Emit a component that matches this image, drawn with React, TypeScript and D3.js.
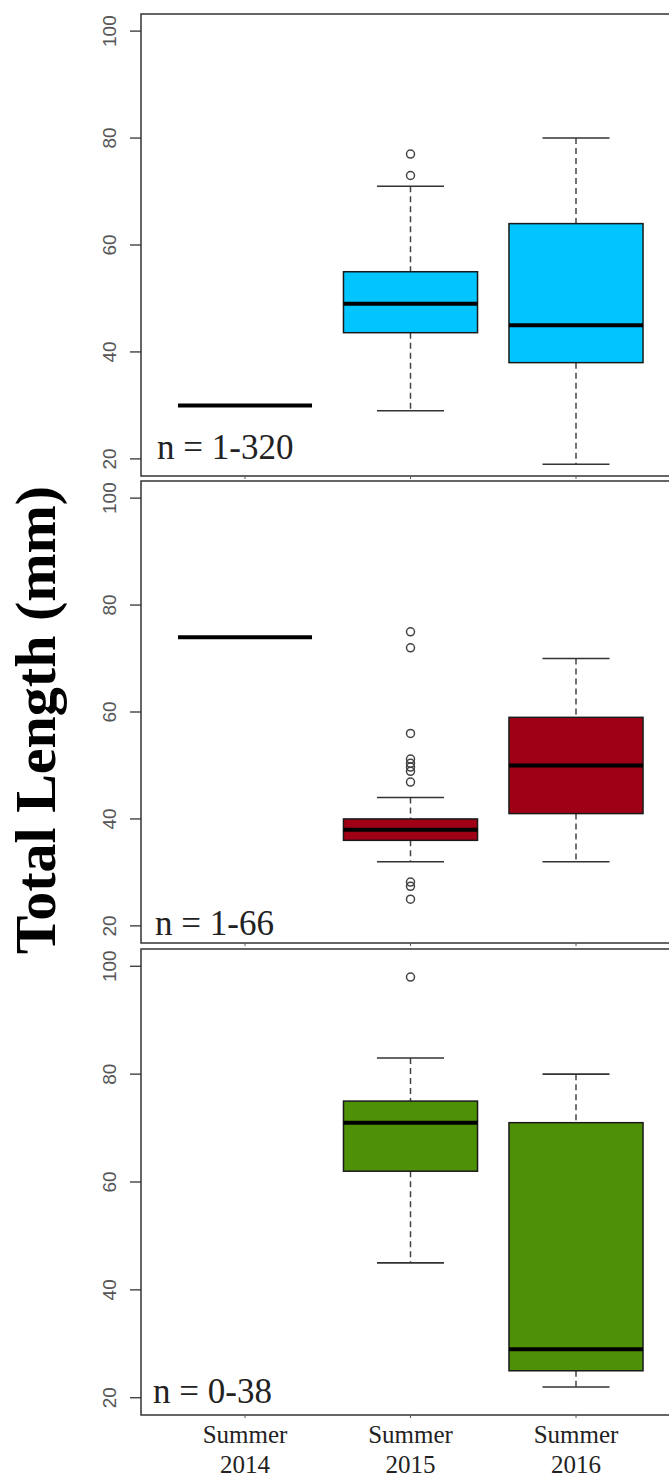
import React from "react";
import * as d3 from "d3";

const categories = ["Summer 2014", "Summer 2015", "Summer 2016"];
const labelLine1 = ["Summer", "Summer", "Summer"];
const labelLine2 = ["2014", "2015", "2016"];
const yTicks = [20, 40, 60, 80, 100];

// Panel 1 (blue)
const p1Min = [30, 29, 19];
const p1Q1 = [30, 43.6, 38];
const p1Median = [30, 49, 45];
const p1Q3 = [30, 55, 64];
const p1Max = [30, 71, 80];
const p1Outliers = [[], [73, 77], []];

// Panel 2 (red)
const p2Min = [74, 32, 32];
const p2Q1 = [74, 36, 41];
const p2Median = [74, 38, 50];
const p2Q3 = [74, 40, 59];
const p2Max = [74, 44, 70];
const p2Outliers = [[], [25, 27.4, 28.2, 46.9, 48.9, 49.7, 50.4, 51.2, 56, 72, 75], []];

// Panel 3 (green) – no data for 2014
const p3Min = [null, 45, 22];
const p3Q1 = [null, 62, 25];
const p3Median = [null, 71, 29];
const p3Q3 = [null, 75, 71];
const p3Max = [null, 83, 80];
const p3Outliers = [[], [98], []];

const panelColors = ["#00C5FF", "#A00016", "#4E9006"];
const nLabels = ["n = 1-320", "n = 1-66", "n = 0-38"];
const yTitle = "Total Length (mm)";

const panelData = [
  { min: p1Min, q1: p1Q1, med: p1Median, q3: p1Q3, max: p1Max, out: p1Outliers },
  { min: p2Min, q1: p2Q1, med: p2Median, q3: p2Q3, max: p2Max, out: p2Outliers },
  { min: p3Min, q1: p3Q1, med: p3Median, q3: p3Q3, max: p3Max, out: p3Outliers },
];

const W = 669;
const H = 1477;
const plotLeft = 141;
const plotRight = 700;
const panelLayout = [
  { top: 14, bottom: 476, nX: 157, nY: 459 },
  { top: 481, bottom: 943, nX: 155, nY: 935 },
  { top: 949, bottom: 1415, nX: 153, nY: 1403 },
];

const SERIF = "'Liberation Serif', 'Times New Roman', serif";
const SANS = "'Liberation Sans', Arial, sans-serif";

export default function App() {
  const x = d3.scalePoint<string>().domain(categories).range([245, 576]);
  const step = x.step();
  const boxW = step * 0.81;
  const capW = boxW / 2;

  return (
    <svg
      width={W}
      height={H}
      style={{ position: "absolute", left: 0, top: 0, background: "#fff" }}
    >
      <rect x={0} y={0} width={W} height={H} fill="#fff" />
      {panelLayout.map((pl, pi) => {
        const y = d3.scaleLinear().domain([16.8, 103.2]).range([pl.bottom, pl.top]);
        const d = panelData[pi];
        return (
          <g key={pi}>
            <rect
              x={plotLeft}
              y={pl.top}
              width={plotRight - plotLeft}
              height={pl.bottom - pl.top}
              fill="none"
              stroke="#333"
              strokeWidth={1.5}
            />
            {yTicks.map((t) => (
              <g key={t}>
                <line x1={plotLeft - 11} x2={plotLeft} y1={y(t)} y2={y(t)} stroke="#333" strokeWidth={1.3} />
                <text
                  transform={`translate(${plotLeft - 25},${y(t)}) rotate(-90)`}
                  textAnchor="middle"
                  fontFamily={SANS}
                  fontSize={19}
                  fill="#555"
                >
                  {t}
                </text>
              </g>
            ))}
            {categories.map((c) => (
              <line key={c} x1={x(c)} x2={x(c)} y1={pl.bottom} y2={pl.bottom + 3} stroke="#555" strokeWidth={1} />
            ))}
            {categories.map((c, i) => {
              if (d.med[i] == null) return null;
              const cx = x(c)!;
              const mn = d.min[i] as number;
              const q1 = d.q1[i] as number;
              const md = d.med[i] as number;
              const q3 = d.q3[i] as number;
              const mx = d.max[i] as number;
              return (
                <g key={c}>
                  <line x1={cx} x2={cx} y1={y(mx)} y2={y(q3)} stroke="#444" strokeWidth={1.5} strokeDasharray="6,4" />
                  <line x1={cx} x2={cx} y1={y(q1)} y2={y(mn)} stroke="#444" strokeWidth={1.5} strokeDasharray="6,4" />
                  <line x1={cx - capW / 2} x2={cx + capW / 2} y1={y(mx)} y2={y(mx)} stroke="#333" strokeWidth={1.6} />
                  <line x1={cx - capW / 2} x2={cx + capW / 2} y1={y(mn)} y2={y(mn)} stroke="#333" strokeWidth={1.6} />
                  <rect
                    x={cx - boxW / 2}
                    y={y(q3)}
                    width={boxW}
                    height={Math.max(0, y(q1) - y(q3))}
                    fill={panelColors[pi]}
                    stroke="#1a1a1a"
                    strokeWidth={1.5}
                  />
                  <line x1={cx - boxW / 2} x2={cx + boxW / 2} y1={y(md)} y2={y(md)} stroke="#000" strokeWidth={4} />
                  {d.out[i].map((o, k) => (
                    <circle key={k} cx={cx} cy={y(o)} r={4} fill="none" stroke="#444" strokeWidth={1.5} />
                  ))}
                </g>
              );
            })}
            <text x={pl.nX} y={pl.nY} fontFamily={SERIF} fontSize={35} fill="#222">
              {nLabels[pi]}
            </text>
          </g>
        );
      })}
      {categories.map((c, i) => (
        <g key={c}>
          <text x={x(c)} y={1443} textAnchor="middle" fontFamily={SERIF} fontSize={25} fill="#222">
            {labelLine1[i]}
          </text>
          <text x={x(c)} y={1473} textAnchor="middle" fontFamily={SERIF} fontSize={25} fill="#222">
            {labelLine2[i]}
          </text>
        </g>
      ))}
      <text
        transform={`translate(55,720) rotate(-90)`}
        textAnchor="middle"
        fontFamily={SERIF}
        fontWeight="bold"
        fontSize={58}
        fill="#000"
      >
        {yTitle}
      </text>
    </svg>
  );
}
